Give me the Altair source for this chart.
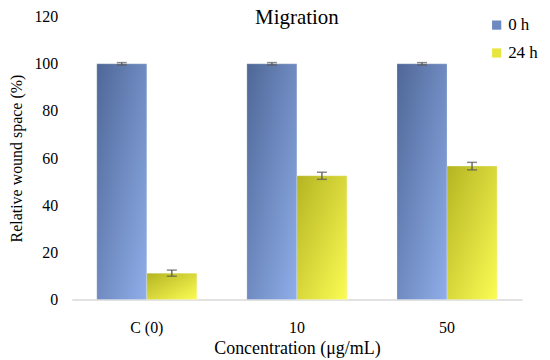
import altair as alt
import pandas as pd

categories = ["C (0)", "10", "50"]
series = ["0 h", "24 h"]
values_0h = [100, 100, 100]
values_24h = [11.2, 52.5, 56.6]
err_0h = [0.5, 0.5, 0.5]
err_24h = [1.3, 1.5, 1.6]

rows = []
for i, c in enumerate(categories):
    rows.append({"cat": c, "series": "0 h", "value": values_0h[i], "err": err_0h[i]})
    rows.append({"cat": c, "series": "24 h", "value": values_24h[i], "err": err_24h[i]})
df = pd.DataFrame(rows)
df["lo"] = df["value"] - df["err"]
df["hi"] = df["value"] + df["err"]

FONT = "Liberation Serif, Times New Roman, serif"

grad_blue = {
    "gradient": "linear", "x1": 0, "y1": 0, "x2": 1, "y2": 1,
    "stops": [{"offset": 0, "color": "#4E6797"}, {"offset": 1, "color": "#90AEEA"}],
}
grad_yellow = {
    "gradient": "linear", "x1": 0, "y1": 0, "x2": 1, "y2": 1,
    "stops": [{"offset": 0, "color": "#B4B422"}, {"offset": 1, "color": "#FCFC55"}],
}

x_axis = alt.Axis(labelAngle=0, ticks=False, domainColor="#D9D9D9", domainWidth=1.5,
                  labelPadding=20, titlePadding=4,
                  labelFont=FONT, titleFont=FONT, labelFontSize=16, titleFontSize=18,
                  labelColor="#000000", titleColor="#000000", titleFontWeight="normal")
y_axis = alt.Axis(values=[0, 20, 40, 60, 80, 100, 120], grid=False, domain=False,
                  ticks=False, labelPadding=14, titlePadding=9,
                  labelFont=FONT, titleFont=FONT, labelFontSize=16, titleFontSize=16,
                  labelColor="#000000", titleColor="#000000", titleFontWeight="normal")
x_scale = alt.Scale(paddingInner=1/3, paddingOuter=1/6)
y_scale = alt.Scale(domain=[0, 120])
X_TITLE = "Concentration (μg/mL)"
Y_TITLE = "Relative wound space (%)"


def xe():
    return alt.X("cat:N", sort=categories, title=X_TITLE, scale=x_scale, axis=x_axis)


def ye(field):
    return alt.Y(field, title=Y_TITLE, scale=y_scale, axis=y_axis)


xoff = alt.XOffset("series:N", sort=series, scale=alt.Scale(paddingInner=0, paddingOuter=0))

bars = alt.Chart(df).mark_bar(stroke="#FFFFFF", strokeOpacity=0.5, strokeWidth=0.5).encode(
    x=xe(),
    y=ye("value:Q"),
    xOffset=xoff,
    fill=alt.condition(alt.datum.series == "0 h", alt.value(grad_blue), alt.value(grad_yellow)),
)

legend_layer = alt.Chart(df).mark_point(shape="square", filled=True, opacity=0).encode(
    x=xe(),
    xOffset=xoff,
    y=ye("value:Q"),
    color=alt.Color("series:N", sort=series, title=None,
                    scale=alt.Scale(domain=series, range=["#6D89C2", "#E6E63E"]),
                    legend=alt.Legend(orient="none", legendX=418, legendY=0, symbolType="square",
                                      symbolSize=85, rowPadding=10, symbolStrokeWidth=0,
                                      symbolOpacity=1, labelOffset=3)),
)

rules = alt.Chart(df).mark_rule(color="#595959", strokeWidth=1.3).encode(
    x=xe(),
    xOffset=xoff,
    y=ye("lo:Q"),
    y2="hi:Q",
)
caps_lo = alt.Chart(df).mark_tick(color="#595959", size=10, thickness=1.5, orient="horizontal").encode(
    x=xe(), xOffset=xoff, y=ye("lo:Q"))
caps_hi = alt.Chart(df).mark_tick(color="#595959", size=10, thickness=1.5, orient="horizontal").encode(
    x=xe(), xOffset=xoff, y=ye("hi:Q"))

chart = alt.layer(bars, legend_layer, rules, caps_lo, caps_hi).properties(
    width=452, height=284,
    title=alt.TitleParams("Migration", fontSize=21, fontWeight="normal",
                          color="#000000", anchor="middle", offset=-19),
    autosize=alt.AutoSizeParams(type="none"),
    padding={"left": 64, "top": 8, "right": 20, "bottom": 60},
).configure(font=FONT).configure_view(stroke=None).configure_axis(
    labelFont=FONT, titleFont=FONT, labelColor="#000000", titleColor="#000000",
    titleFontWeight="normal",
).configure_legend(labelFont=FONT, labelFontSize=17, labelColor="#000000"
).configure_title(font=FONT)

chart.save("out.html", embed_options={"renderer": "svg", "actions": False})
